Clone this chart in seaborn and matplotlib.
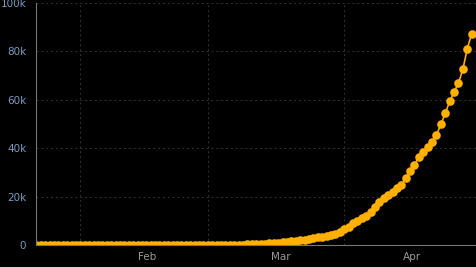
import matplotlib
matplotlib.use("Agg")
import matplotlib.pyplot as plt
import numpy as np
import pandas as pd
import seaborn as sns

start_date = "2020-01-22"
end_date = "2020-04-30"

jan_values = [0, 0, 0, 0, 0, 0, 0, 0, 0, 0]
feb_values = [0, 0, 0, 0, 0, 0, 0, 0, 0, 0, 0, 0, 0, 0, 0, 0, 0, 0, 0, 0,
              0, 0, 0, 0, 5, 10, 15, 20, 25]
mar_values = [30, 40, 50, 60, 80, 100, 120, 150, 200, 250, 300, 400, 500, 600,
              750, 900, 1000, 1200, 1400, 1500, 1700, 1900, 2100, 2400, 2800,
              3100, 3400, 3800, 4100, 4600, 5400]
apr_values = [6500, 7400, 8900, 10000, 11000, 12000, 13500, 15700, 17800, 19500,
              20600, 21800, 23400, 24800, 27500, 30400, 33200, 36300, 38300,
              40500, 42700, 45500, 49800, 54400, 59300, 63200, 66900, 72600,
              81100, 87200]

y_ticks = [0, 20000, 40000, 60000, 80000, 100000]
y_tick_labels = ["0", "20k", "40k", "60k", "80k", "100k"]
month_labels = ["Feb", "Mar", "Apr"]

values = jan_values + feb_values + mar_values + apr_values
dates = pd.date_range(start_date, end_date, freq="D")
df = pd.DataFrame({"date": dates, "value": values})

sns.set_style("dark")
fig = plt.figure(figsize=(4.77, 2.67), dpi=100, facecolor="black")
ax = fig.add_axes([0.0755, 0.0824, 0.9225, 0.9064])
ax.set_facecolor("black")

sns.lineplot(data=df, x="date", y="value", ax=ax, color="#ffb000",
             marker="o", markersize=6.2, markeredgewidth=0, linewidth=1.2)

ax.set_xlim(pd.Timestamp("2020-01-21 22:00"), pd.Timestamp("2020-05-01"))
ax.set_ylim(0, 100000)

ax.set_yticks(y_ticks)
ax.set_yticklabels(y_tick_labels)

month_starts = [pd.Timestamp(d) for d in ["2020-02-01", "2020-03-01", "2020-04-01", "2020-05-01"]]
ax.set_xticks(month_starts)
ax.set_xticklabels([""] * len(month_starts))
mids = [pd.Timestamp("2020-02-16 06:00"), pd.Timestamp("2020-03-17 12:00"), pd.Timestamp("2020-04-16 12:00")]
ax.set_xticks(mids, minor=True)
ax.set_xticklabels(month_labels, minor=True)
ax.tick_params(axis="x", which="minor", length=0, pad=5, labelsize=7.5, labelcolor="#9a9a9a")
ax.tick_params(axis="x", which="major", length=5, width=0.8, color="#777777")
ax.tick_params(axis="y", length=5, width=0.8, color="#777777", labelsize=7.5,
               labelcolor="#7b9cc0", pad=2)

ax.grid(False)
ax.grid(True, which="major", axis="both", color="#333333", linestyle=(0, (2, 3)), linewidth=0.7)

for s in ["top", "right"]:
    ax.spines[s].set_visible(False)
for s in ["left", "bottom"]:
    ax.spines[s].set_color("#777777")
    ax.spines[s].set_linewidth(0.8)
    ax.spines[s].set_zorder(3)
ax.set_xlabel("")
ax.set_ylabel("")

fig.savefig("out.png", dpi=100, facecolor="black")
